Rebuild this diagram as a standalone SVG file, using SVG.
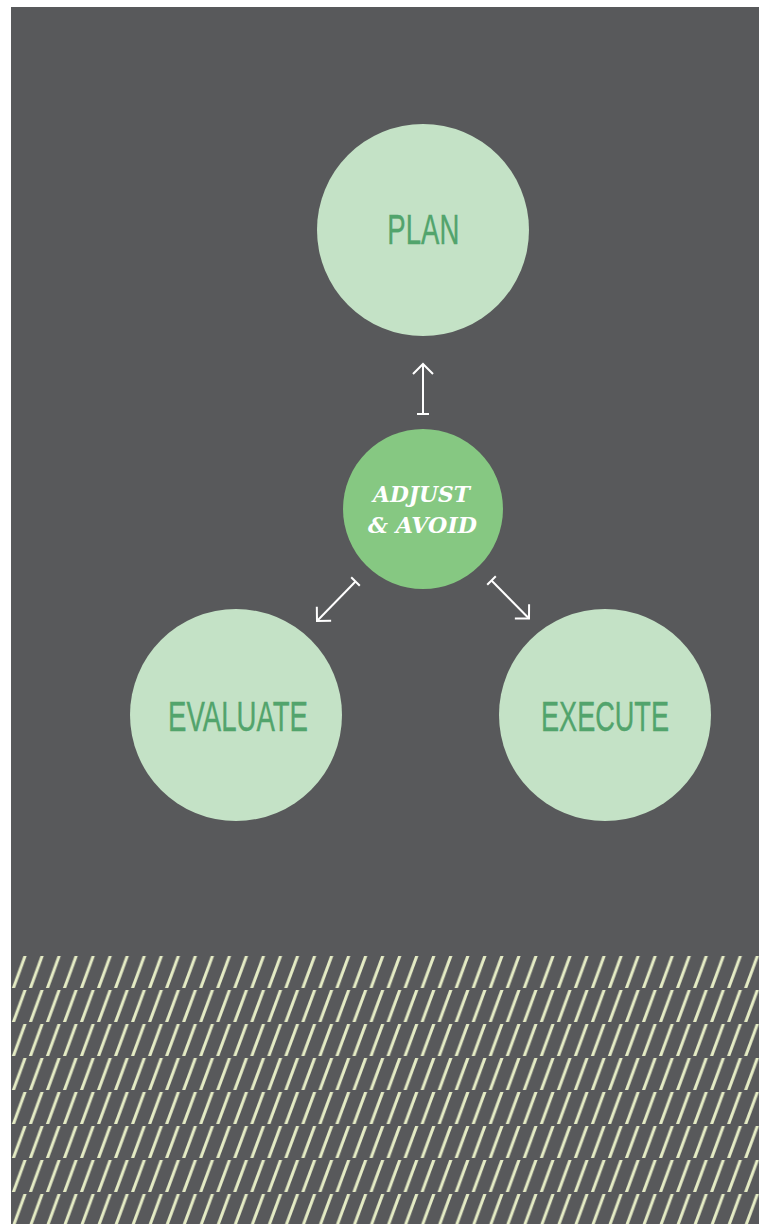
<svg xmlns="http://www.w3.org/2000/svg" width="766" height="1224" viewBox="0 0 766 1224">
<defs>
<style>
.bg{fill:#58595b}
.node{fill:#c4e2c6}
.lbl{font-family:"Liberation Sans",Arial,sans-serif;font-size:43px;fill:#52a46c;stroke:#52a46c;stroke-width:0.4;text-anchor:middle}
.hub{fill:#86c882}
.hubt{font-family:"DejaVu Serif","Liberation Serif",serif;font-weight:bold;font-style:italic;font-size:23px;fill:#ffffff;text-anchor:middle}
.conn{stroke:#ffffff;stroke-width:2;fill:none}
</style>
<marker id="head" markerUnits="userSpaceOnUse" markerWidth="30" markerHeight="30" viewBox="-15 -15 30 30" refX="0" refY="0" orient="auto">
<path d="M-10,-10 L0,0 L-10,10" fill="none" stroke="#ffffff" stroke-width="2"/>
</marker>
<marker id="bar" markerUnits="userSpaceOnUse" markerWidth="20" markerHeight="20" viewBox="-10 -10 20 20" refX="0" refY="0" orient="auto">
<path d="M0,-6 L0,6" fill="none" stroke="#ffffff" stroke-width="2"/>
</marker>
<pattern id="hatch" patternUnits="userSpaceOnUse" x="11" y="956" width="17.03" height="34">
<polygon points="0.8,32 4,32 15.7,0 12.5,0" fill="#e5ecc5"/>
</pattern>
</defs>
<rect class="bg" x="11" y="7" width="748" height="1217"/>
<rect x="11" y="956" width="748" height="268" fill="url(#hatch)"/>
<g id="connectors">
<line class="conn" x1="423" y1="414" x2="423" y2="364" marker-start="url(#bar)" marker-end="url(#head)"/>
<line class="conn" x1="355.5" y1="581.5" x2="317" y2="621" marker-start="url(#bar)" marker-end="url(#head)"/>
<line class="conn" x1="491.5" y1="580.5" x2="529" y2="618.5" marker-start="url(#bar)" marker-end="url(#head)"/>
</g>
<g id="plan">
<circle class="node" cx="423" cy="230" r="106"/>
<text class="lbl" x="423.3" y="243.5" textLength="72" lengthAdjust="spacingAndGlyphs">PLAN</text>
</g>
<g id="evaluate">
<circle class="node" cx="236" cy="715" r="106"/>
<text class="lbl" x="238" y="730.7" textLength="140" lengthAdjust="spacingAndGlyphs">EVALUATE</text>
</g>
<g id="execute">
<circle class="node" cx="605" cy="715" r="106"/>
<text class="lbl" x="605" y="730.7" textLength="128" lengthAdjust="spacingAndGlyphs">EXECUTE</text>
</g>
<g id="adjust">
<circle class="hub" cx="423" cy="509" r="80"/>
<text class="hubt" x="421.5" y="502" textLength="97" lengthAdjust="spacingAndGlyphs">ADJUST</text>
<text class="hubt" x="422.5" y="533" textLength="109" lengthAdjust="spacingAndGlyphs">&amp; AVOID</text>
</g>
</svg>
